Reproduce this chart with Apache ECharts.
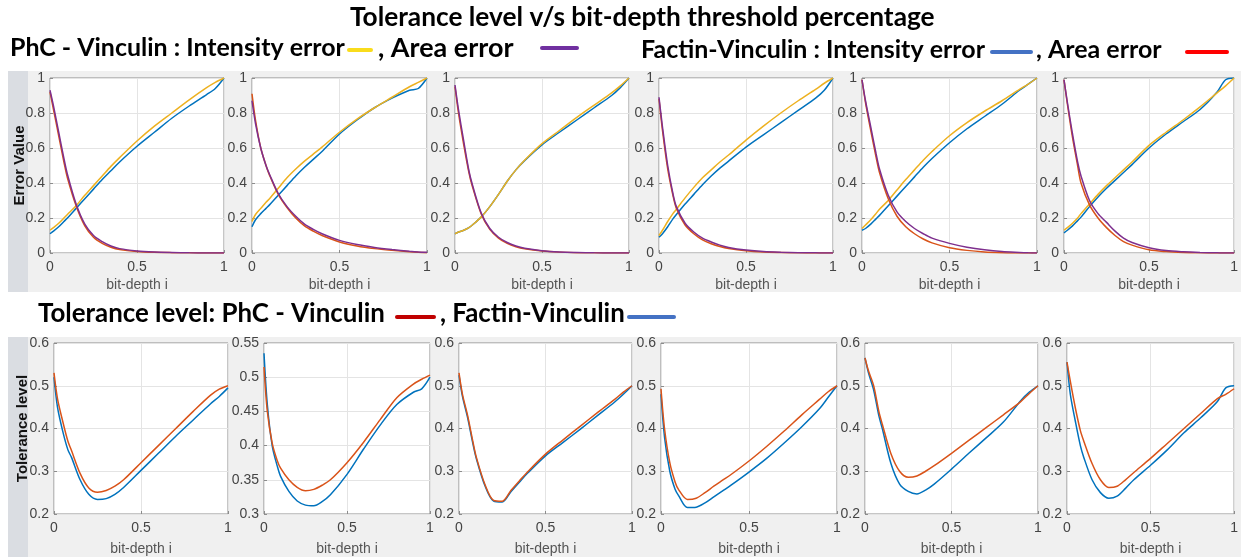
<!DOCTYPE html>
<html>
<head>
<meta charset="utf-8">
<script src="https://cdn.jsdelivr.net/npm/echarts@6/dist/echarts.min.js"></script>
<style>
html,body{margin:0;padding:0;background:#fff;}
#chart{width:1241px;height:557px;}
</style>
</head>
<body>
<div id="chart"></div>
<script>
// ---------- DATA ----------
const X = [0, 0.02, 0.05, 0.08, 0.1, 0.15, 0.2, 0.25, 0.3, 0.35, 0.4, 0.5, 0.6, 0.7, 0.8, 0.9, 0.95, 1];
const xTicks = ['0', '0.5', '1'];

// Top row: error values (intensity: yellow / blue, area: orange / purple)
const t1Yellow = [0.13, 0.145, 0.17, 0.20, 0.22, 0.27, 0.33, 0.385, 0.44, 0.495, 0.545, 0.64, 0.725, 0.80, 0.875, 0.945, 0.975, 1.0];
const t1Blue   = [0.11, 0.125, 0.15, 0.18, 0.20, 0.255, 0.31, 0.365, 0.42, 0.47, 0.52, 0.61, 0.69, 0.77, 0.84, 0.905, 0.94, 1.0];
const t1Orange = [0.92, 0.82, 0.67, 0.52, 0.43, 0.27, 0.155, 0.09, 0.055, 0.033, 0.02, 0.009, 0.004, 0.002, 0.001, 0, 0, 0];
const t1Purple = [0.93, 0.84, 0.69, 0.54, 0.45, 0.28, 0.165, 0.10, 0.065, 0.04, 0.025, 0.012, 0.006, 0.003, 0.001, 0, 0, 0];

const t2Yellow = [0.18, 0.22, 0.255, 0.29, 0.31, 0.37, 0.43, 0.48, 0.525, 0.565, 0.605, 0.69, 0.765, 0.83, 0.89, 0.95, 0.975, 1.0];
const t2Blue   = [0.15, 0.19, 0.225, 0.255, 0.275, 0.33, 0.385, 0.44, 0.49, 0.535, 0.58, 0.68, 0.76, 0.83, 0.885, 0.93, 0.94, 1.0];
const t2Orange = [0.91, 0.76, 0.60, 0.50, 0.445, 0.335, 0.26, 0.20, 0.155, 0.125, 0.10, 0.063, 0.04, 0.025, 0.015, 0.007, 0.004, 0.002];
const t2Purple = [0.87, 0.74, 0.60, 0.50, 0.45, 0.34, 0.265, 0.21, 0.165, 0.135, 0.11, 0.072, 0.048, 0.032, 0.02, 0.01, 0.006, 0.004];

const t3Yellow = [0.11, 0.12, 0.13, 0.145, 0.16, 0.205, 0.265, 0.335, 0.41, 0.475, 0.53, 0.625, 0.70, 0.775, 0.845, 0.915, 0.955, 1.0];
const t3Blue   = [0.11, 0.12, 0.13, 0.145, 0.16, 0.205, 0.265, 0.335, 0.41, 0.475, 0.528, 0.618, 0.69, 0.76, 0.83, 0.9, 0.945, 1.0];
const t3Orange = [0.95, 0.80, 0.62, 0.46, 0.38, 0.225, 0.135, 0.085, 0.055, 0.036, 0.024, 0.011, 0.005, 0.002, 0.001, 0, 0, 0];
const t3Purple = [0.96, 0.82, 0.64, 0.47, 0.39, 0.23, 0.14, 0.09, 0.06, 0.04, 0.027, 0.013, 0.006, 0.003, 0.001, 0, 0, 0];

const t4Yellow = [0.10, 0.13, 0.18, 0.225, 0.25, 0.315, 0.375, 0.43, 0.475, 0.52, 0.56, 0.645, 0.725, 0.80, 0.87, 0.935, 0.97, 1.0];
const t4Blue   = [0.09, 0.11, 0.15, 0.195, 0.22, 0.28, 0.335, 0.39, 0.44, 0.485, 0.525, 0.605, 0.675, 0.745, 0.815, 0.885, 0.93, 1.0];
const t4Orange = [0.88, 0.70, 0.48, 0.33, 0.255, 0.16, 0.11, 0.075, 0.053, 0.037, 0.026, 0.013, 0.006, 0.003, 0.001, 0, 0, 0];
const t4Purple = [0.89, 0.72, 0.50, 0.34, 0.265, 0.17, 0.12, 0.085, 0.063, 0.045, 0.032, 0.017, 0.008, 0.004, 0.002, 0.001, 0, 0];

const t5Yellow = [0.14, 0.16, 0.19, 0.225, 0.25, 0.30, 0.36, 0.42, 0.475, 0.53, 0.58, 0.67, 0.745, 0.81, 0.87, 0.935, 0.965, 1.0];
const t5Blue   = [0.13, 0.14, 0.165, 0.195, 0.215, 0.27, 0.325, 0.38, 0.435, 0.49, 0.54, 0.63, 0.71, 0.78, 0.85, 0.93, 0.965, 1.0];
const t5Orange = [0.99, 0.86, 0.70, 0.55, 0.46, 0.31, 0.21, 0.15, 0.11, 0.08, 0.058, 0.03, 0.015, 0.006, 0.002, 0, 0, 0];
const t5Purple = [0.99, 0.87, 0.72, 0.57, 0.48, 0.33, 0.235, 0.18, 0.14, 0.11, 0.085, 0.055, 0.033, 0.018, 0.008, 0.003, 0.001, 0];

const t6Yellow = [0.13, 0.145, 0.17, 0.20, 0.225, 0.28, 0.335, 0.385, 0.43, 0.475, 0.52, 0.615, 0.69, 0.76, 0.835, 0.915, 0.955, 1.0];
const t6Blue   = [0.115, 0.13, 0.155, 0.185, 0.205, 0.265, 0.32, 0.37, 0.415, 0.46, 0.505, 0.60, 0.68, 0.75, 0.82, 0.92, 0.99, 1.0];
const t6Orange = [0.99, 0.85, 0.66, 0.50, 0.40, 0.275, 0.20, 0.145, 0.10, 0.065, 0.045, 0.018, 0.008, 0.003, 0.001, 0, 0, 0];
const t6Purple = [0.99, 0.86, 0.68, 0.52, 0.44, 0.30, 0.225, 0.175, 0.125, 0.085, 0.06, 0.03, 0.014, 0.007, 0.003, 0.001, 0, 0];

// Bottom row: tolerance level (orange / blue)
const b1Orange = [0.53, 0.47, 0.417, 0.37, 0.349, 0.295, 0.261, 0.251, 0.255, 0.265, 0.28, 0.32, 0.36, 0.40, 0.44, 0.478, 0.492, 0.5];
const b1Blue   = [0.52, 0.45, 0.394, 0.35, 0.333, 0.28, 0.246, 0.234, 0.236, 0.246, 0.262, 0.302, 0.342, 0.382, 0.42, 0.458, 0.475, 0.495];

const b2Orange = [0.515, 0.45, 0.403, 0.378, 0.367, 0.35, 0.339, 0.334, 0.336, 0.342, 0.35, 0.375, 0.405, 0.438, 0.47, 0.49, 0.497, 0.503];
const b2Blue   = [0.535, 0.46, 0.399, 0.37, 0.355, 0.333, 0.319, 0.313, 0.312, 0.318, 0.328, 0.358, 0.395, 0.43, 0.46, 0.478, 0.483, 0.5];

const b3Orange = [0.53, 0.48, 0.43, 0.37, 0.333, 0.269, 0.232, 0.23, 0.255, 0.278, 0.30, 0.34, 0.373, 0.405, 0.437, 0.468, 0.485, 0.5];
const b3Blue   = [0.525, 0.475, 0.425, 0.365, 0.33, 0.266, 0.23, 0.228, 0.252, 0.275, 0.297, 0.336, 0.367, 0.398, 0.43, 0.462, 0.48, 0.5];

const b4Orange = [0.493, 0.40, 0.32, 0.275, 0.257, 0.234, 0.237, 0.25, 0.265, 0.279, 0.293, 0.324, 0.358, 0.394, 0.432, 0.468, 0.486, 0.5];
const b4Blue   = [0.48, 0.38, 0.30, 0.258, 0.243, 0.215, 0.216, 0.226, 0.24, 0.254, 0.268, 0.298, 0.33, 0.366, 0.404, 0.446, 0.473, 0.5];

const b5Orange = [0.565, 0.535, 0.50, 0.44, 0.41, 0.341, 0.30, 0.286, 0.289, 0.30, 0.313, 0.342, 0.372, 0.402, 0.432, 0.463, 0.482, 0.5];
const b5Blue   = [0.565, 0.53, 0.49, 0.43, 0.40, 0.318, 0.27, 0.253, 0.247, 0.256, 0.27, 0.305, 0.342, 0.378, 0.415, 0.465, 0.485, 0.5];

const b6Orange = [0.555, 0.51, 0.448, 0.395, 0.371, 0.318, 0.28, 0.262, 0.265, 0.28, 0.297, 0.33, 0.365, 0.40, 0.435, 0.47, 0.48, 0.493];
const b6Blue   = [0.555, 0.48, 0.417, 0.36, 0.333, 0.28, 0.25, 0.237, 0.242, 0.26, 0.28, 0.314, 0.35, 0.39, 0.425, 0.463, 0.495, 0.5];

const topYRange = {min: 0, max: 1, interval: 0.2};
const botYRanges = [
  {min: 0.2, max: 0.6, interval: 0.1},
  {min: 0.3, max: 0.55, interval: 0.05},
  {min: 0.2, max: 0.6, interval: 0.1},
  {min: 0.2, max: 0.6, interval: 0.1},
  {min: 0.2, max: 0.6, interval: 0.1},
  {min: 0.2, max: 0.6, interval: 0.1}
];

// ---------- LAYOUT / STYLE ----------
const C = {blue: '#0072BD', orange: '#D95319', yellow: '#EDB120', purple: '#7E2F8E'};
const topRects = [[50,78,174,175],[252,78,175,175],[455,78,174,175],[659,78,174,175],[862,78,175,175],[1064,78,175,175]];
const botRects = [[54,343,174,175],[264,343,166,175],[459,343,173,175],[661,343,176,175],[865,343,173,175],[1067,343,173,175]];

const topData = [
  [t1Yellow, t1Blue, t1Orange, t1Purple],
  [t2Yellow, t2Blue, t2Orange, t2Purple],
  [t3Yellow, t3Blue, t3Orange, t3Purple],
  [t4Yellow, t4Blue, t4Orange, t4Purple],
  [t5Yellow, t5Blue, t5Orange, t5Purple],
  [t6Yellow, t6Blue, t6Orange, t6Purple]
];
const botData = [
  [b1Orange, b1Blue],[b2Orange, b2Blue],[b3Orange, b3Blue],
  [b4Orange, b4Blue],[b5Orange, b5Blue],[b6Orange, b6Blue]
];

const zip = ys => X.map((x, i) => [x, ys[i]]);
const AF = 'Liberation Sans, Arial, sans-serif';
const tickFont = {fontFamily: AF, fontSize: 14, color: '#444'};

const grids = [], xAxes = [], yAxes = [], series = [];
function addPanel(rect, yr, curves, colors, row, isFirst) {
  const idx = grids.length;
  grids.push({left: rect[0], top: rect[1], width: rect[2], height: rect[3], show: true,
    backgroundColor: '#ffffff', borderColor: '#8c8c8c', borderWidth: 1, containLabel: false});
  xAxes.push({type: 'value', gridIndex: idx, min: 0, max: 1, interval: 0.5,
    name: 'bit-depth i', nameLocation: 'middle', nameGap: row === 0 ? 25 : 28, nameMoveOverlap: false,
    nameTextStyle: {fontFamily: AF, fontSize: 14, color: '#555'},
    axisLine: {show: false}, axisTick: {show: true, inside: true, length: 3, lineStyle: {color: '#8c8c8c'}},
    axisLabel: Object.assign({margin: 7, formatter: v => xTicks[Math.round(v * 2)]}, tickFont),
    splitLine: {show: true, lineStyle: {color: '#e4e4e4', width: 1}}});
  yAxes.push({type: 'value', gridIndex: idx, min: yr.min, max: yr.max, interval: yr.interval,
    name: isFirst ? (row === 0 ? 'Error Value' : 'Tolerance level') : '',
    nameLocation: 'middle', nameGap: row === 0 ? 23 : 24, nameMoveOverlap: false,
    nameTextStyle: {fontFamily: AF, fontSize: 15, fontWeight: 'bold', color: '#111'},
    axisLine: {show: false}, axisTick: {show: true, inside: true, length: 3, lineStyle: {color: '#8c8c8c'}},
    axisLabel: Object.assign({margin: 5}, tickFont),
    splitLine: {show: true, lineStyle: {color: '#e4e4e4', width: 1}}});
  curves.forEach((ys, k) => {
    series.push({type: 'line', xAxisIndex: idx, yAxisIndex: idx, data: zip(ys),
      showSymbol: false, smooth: 0.3, lineStyle: {width: 1.5, color: colors[k]},
      itemStyle: {color: colors[k]}, z: 2 + k});
  });
}
topRects.forEach((r, i) => addPanel(r, topYRange, [topData[i][1], topData[i][0], topData[i][2], topData[i][3]], [C.blue, C.yellow, C.orange, C.purple], 0, i === 0));
botRects.forEach((r, i) => addPanel(r, botYRanges[i], [botData[i][1], botData[i][0]], [C.blue, C.orange], 1, i === 0));

// text fitting helper
const mctx = document.createElement('canvas').getContext('2d');
const HF = 'Lato';
function fit(text, weight, width) {
  mctx.font = weight + ' 100px ' + HF;
  return 100 * width / mctx.measureText(text).width;
}
function txt(text, x, y, size, weight, fill) {
  return {type: 'text', silent: true, z: 10, x: x, y: y,
    style: {text: text, font: weight + ' ' + size.toFixed(2) + 'px ' + HF, fill: fill || '#000', verticalAlign: 'middle', align: 'left'}};
}
function seg(x1, x2, y, color, w) {
  return {type: 'line', silent: true, z: 10, shape: {x1: x1, y1: y, x2: x2, y2: y}, style: {stroke: color, lineWidth: w || 4, lineCap: 'round'}};
}
const titleText = 'Tolerance level v/s bit-depth threshold percentage';
const leg1 = 'PhC - Vinculin : Intensity error';
const leg2 = 'Factin-Vinculin : Intensity error';
const leg3 = 'Tolerance level: PhC - Vinculin';
const sTitle = fit(titleText, 'bold', 585);
const s1 = fit(leg1, 'bold', 335);
const s2 = fit(leg2, 'bold', 344);
const s3 = fit(leg3, 'bold', 347);

const graphics = [
  {type: 'rect', silent: true, z: -100, shape: {x: 8, y: 71, width: 1233, height: 221}, style: {fill: '#f0f0f0'}},
  {type: 'rect', silent: true, z: -99, shape: {x: 8, y: 71, width: 20, height: 221}, style: {fill: '#dadde2'}},
  {type: 'rect', silent: true, z: -100, shape: {x: 8, y: 337, width: 1233, height: 220}, style: {fill: '#f0f0f0'}},
  {type: 'rect', silent: true, z: -99, shape: {x: 8, y: 337, width: 20, height: 220}, style: {fill: '#dadde2'}},
  txt(titleText, 350, 18, sTitle, 'bold'),
  txt(leg1, 10, 48, s1, 'bold'),
  seg(349, 371, 50, '#F9DC1C', 4),
  txt(', Area error', 378, 48, s1 * 1.08, 'bold'),
  seg(542, 577, 48, '#7030A0', 4),
  txt(leg2, 641, 50, s2, 'bold'),
  seg(992, 1031, 52, '#4472C4', 4),
  txt(', Area error', 1036, 50, s2, 'bold'),
  seg(1187, 1227, 52, '#FF0000', 4),
  txt(leg3, 38, 314, s3, 'bold'),
  seg(397, 434, 317, '#C00000', 4),
  txt(', Factin-Vinculin', 440, 314, s3, 'bold'),
  seg(629, 674, 317, '#4472C4', 4)
];

const chart = echarts.init(document.getElementById('chart'), null, {renderer: 'canvas'});
chart.setOption({
  animation: false,
  backgroundColor: '#ffffff',
  grid: grids, xAxis: xAxes, yAxis: yAxes, series: series,
  graphic: {elements: graphics}
});
</script>
</body>
</html>
